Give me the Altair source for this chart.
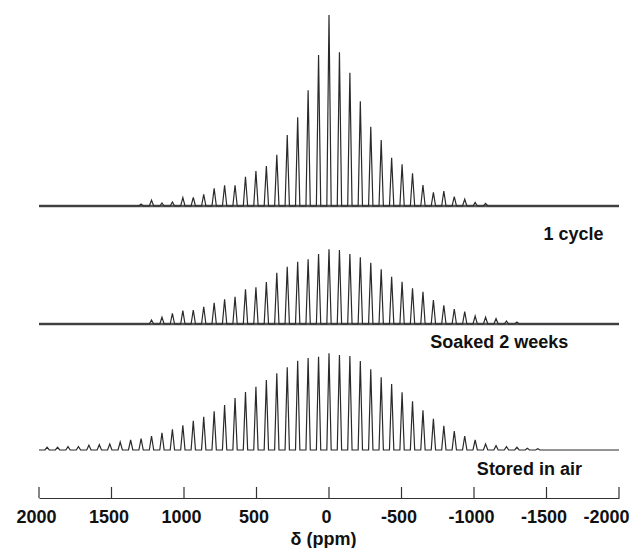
import altair as alt
import pandas as pd

# Sideband positions (ppm)
positions = [1944, 1872, 1800, 1728, 1656, 1584, 1512, 1440, 1368, 1296, 1224, 1152,
             1080, 1008, 936, 864, 792, 720, 648, 576, 504, 432, 360, 288, 216, 144,
             72, 0, -72, -144, -216, -288, -360, -432, -504, -576, -648, -720, -792,
             -864, -936, -1008, -1080, -1152, -1224, -1296, -1368, -1440]

# Peak heights above each trace's baseline (arbitrary units)
h_cycle = [0, 0, 0, 0, 0, 0, 0, 0, 0, 2, 5.7, 3, 4, 8.3, 8.7, 11.7, 17.7, 20.7, 20.7,
           29.3, 35, 40, 51.3, 71, 88.7, 115.7, 151, 191, 153.7, 133.3, 104.7, 79.3,
           66, 48.3, 41.7, 32.7, 21, 13.7, 15, 9.3, 6.7, 3.5, 2.5, 0, 0, 0, 0, 0]
h_soaked = [0, 0, 0, 0, 0, 0, 0, 0, 0, 0, 4, 6.7, 10.7, 13.3, 14, 17.3, 21.3, 24.7,
            27.3, 34.7, 36.7, 42, 51.3, 57.3, 62.3, 64.7, 70, 74.7, 74, 70, 66.7, 61.3,
            54.7, 47.3, 42.3, 35.7, 32.3, 24, 18.7, 15, 12.3, 8, 6.7, 5.3, 3, 2, 0, 0]
h_air = [2.7, 2.7, 3.3, 3.3, 4.7, 5.3, 6, 8, 10, 11.3, 14, 17.3, 20.7, 24.7, 29.3, 33.3,
         38.7, 45, 52, 58, 63.3, 70, 76.7, 82.7, 89.3, 92, 93.3, 96.7, 95, 94, 89, 80.7,
         72.7, 66, 57.7, 48.7, 39.7, 31.3, 24.3, 19, 14, 10, 6, 4.3, 3.3, 2.7, 1.7, 1.3]

trace_names = ["1 cycle", "Soaked 2 weeks", "Stored in air"]
trace_offsets = [292, 174, 48]
trace_heights = [h_cycle, h_soaked, h_air]
trace_noisy = [True, True, False]

label_ppm = [-1686, -1174, -1382]
label_y = [258, 150, 23]

tick_values = [2000, 1500, 1000, 500, 0, -500, -1000, -1500, -2000]

HALF = 15  # half base width of a drawn peak (ppm)

rows = []
for name, off, hs in zip(trace_names, trace_offsets, trace_heights):
    seq = 0
    rows.append(dict(trace=name, ppm=2000, y=off, seq=seq)); seq += 1
    for p, h in zip(positions, hs):
        if h <= 0:
            continue
        rows.append(dict(trace=name, ppm=p + HALF, y=off, seq=seq)); seq += 1
        rows.append(dict(trace=name, ppm=p, y=off + h, seq=seq)); seq += 1
        rows.append(dict(trace=name, ppm=p - HALF, y=off, seq=seq)); seq += 1
    rows.append(dict(trace=name, ppm=-2000, y=off, seq=seq))
spec_df = pd.DataFrame(rows)

base_df = pd.DataFrame({
    "trace": [n for n, z in zip(trace_names, trace_noisy) if z],
    "y": [o for o, z in zip(trace_offsets, trace_noisy) if z],
    "x1": [2000 for z in trace_noisy if z],
    "x2": [-2000 for z in trace_noisy if z],
})

label_df = pd.DataFrame({"text": trace_names, "ppm": label_ppm, "y": label_y})
tick_df = pd.DataFrame({"v": tick_values, "y0": [0] * len(tick_values), "y1": [11] * len(tick_values)})

FONT = "Liberation Sans"

xscale = alt.Scale(domain=[-2000, 2000], reverse=True, nice=False, zero=False)
yscale = alt.Scale(domain=[0, 488], nice=False, zero=False)

xaxis = alt.Axis(
    values=tick_values, ticks=False, grid=False, domain=True,
    domainColor="#333333", domainWidth=1.2,
    labelFont=FONT, labelFontSize=18, labelFontWeight="bold", labelColor="#111111",
    labelPadding=10, labelExpr="toString(datum.value)",
    labelAlign=alt.condition("datum.value == -2000", alt.value("right"), alt.value("center")),
    labelOffset=alt.condition("datum.value == -2000", alt.value(10), alt.value(-3)),
    labelFlush=False,
    title="δ (ppm)", titleFont=FONT, titleFontSize=18, titleFontWeight="bold",
    titleColor="#111111", titlePadding=4, titleX=284, titleAlign="center",
)

noise = alt.Chart(base_df).mark_rule(color="#3a3a3a", strokeWidth=2.4, opacity=0.85).encode(
    x=alt.X("x1:Q", scale=xscale, axis=xaxis),
    x2="x2:Q",
    y=alt.Y("y:Q", scale=yscale, axis=None),
)

lines = alt.Chart(spec_df).mark_line(color="#2a2a2a", strokeWidth=1.2, interpolate="linear").encode(
    x=alt.X("ppm:Q", scale=xscale, axis=xaxis),
    y=alt.Y("y:Q", scale=yscale, axis=None),
    detail="trace:N",
    order="seq:Q",
)

ticks = alt.Chart(tick_df).mark_rule(color="#333333", strokeWidth=1.2).encode(
    x=alt.X("v:Q", scale=xscale, axis=xaxis),
    y=alt.Y("y0:Q", scale=yscale, axis=None),
    y2="y1:Q",
)

labels = alt.Chart(label_df).mark_text(
    font=FONT, fontSize=18, fontWeight="bold", color="#111111",
    align="center", baseline="alphabetic",
).encode(
    x=alt.X("ppm:Q", scale=xscale, axis=xaxis),
    y=alt.Y("y:Q", scale=yscale, axis=None),
    text="text:N",
)

chart = alt.layer(noise, lines, ticks, labels).properties(
    width=580, height=488,
    background="white",
    autosize=alt.AutoSizeParams(type="none"),
    padding={"left": 31, "top": 2, "right": 11, "bottom": 50},
).configure_view(stroke=None)

chart.save("out.html", embed_options={"renderer": "svg", "actions": False})
